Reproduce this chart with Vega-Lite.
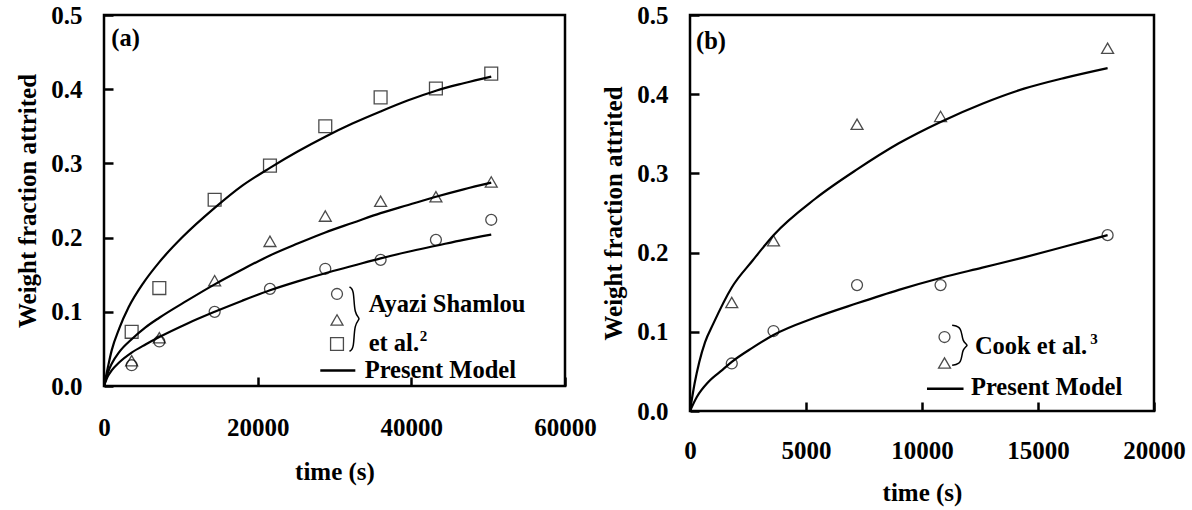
{
  "$schema": "https://vega.github.io/schema/vega-lite/v6.json",
  "background": "white",
  "padding": {"left": 14, "top": 1, "right": 5, "bottom": 5},
  "spacing": 125,
  "bounds": "flush",
  "config": {
    "font": "Liberation Serif",
    "view": {"stroke": "black", "strokeWidth": 2.5},
    "axis": {
      "domain": false, "grid": false, "ticks": true,
      "labelFont": "Liberation Serif", "labelFontWeight": "bold", "labelFontSize": 25, "labelColor": "black",
      "titleFont": "Liberation Serif", "titleFontWeight": "bold", "titleFontSize": 25, "titleColor": "black",
      "tickColor": "black", "tickWidth": 2.5, "tickSize": 9, "offset": -9,
      "labelFlush": false, "labelOverlap": false, "zindex": 1
    }
  },
  "datasets": {
    "a_points": [
      {"t": 3600, "w": 0.028, "series": "circle"},
      {"t": 7200, "w": 0.060, "series": "circle"},
      {"t": 14400, "w": 0.100, "series": "circle"},
      {"t": 21600, "w": 0.131, "series": "circle"},
      {"t": 28800, "w": 0.158, "series": "circle"},
      {"t": 36000, "w": 0.170, "series": "circle"},
      {"t": 43200, "w": 0.197, "series": "circle"},
      {"t": 50400, "w": 0.224, "series": "circle"},
      {"t": 3600, "w": 0.034, "series": "triangle"},
      {"t": 7200, "w": 0.065, "series": "triangle"},
      {"t": 14400, "w": 0.142, "series": "triangle"},
      {"t": 21600, "w": 0.195, "series": "triangle"},
      {"t": 28800, "w": 0.229, "series": "triangle"},
      {"t": 36000, "w": 0.249, "series": "triangle"},
      {"t": 43200, "w": 0.255, "series": "triangle"},
      {"t": 50400, "w": 0.275, "series": "triangle"},
      {"t": 3600, "w": 0.073, "series": "square"},
      {"t": 7200, "w": 0.132, "series": "square"},
      {"t": 14400, "w": 0.251, "series": "square"},
      {"t": 21600, "w": 0.297, "series": "square"},
      {"t": 28800, "w": 0.350, "series": "square"},
      {"t": 36000, "w": 0.389, "series": "square"},
      {"t": 43200, "w": 0.401, "series": "square"},
      {"t": 50400, "w": 0.421, "series": "square"}
    ],
    "a_curves": [
      {"t": 0, "w": 0, "curve": "c3"},
      {"t": 500, "w": 0.025, "curve": "c3"},
      {"t": 1000, "w": 0.048, "curve": "c3"},
      {"t": 2000, "w": 0.078, "curve": "c3"},
      {"t": 3200, "w": 0.106, "curve": "c3"},
      {"t": 5200, "w": 0.140, "curve": "c3"},
      {"t": 7200, "w": 0.167, "curve": "c3"},
      {"t": 10150, "w": 0.200, "curve": "c3"},
      {"t": 14400, "w": 0.240, "curve": "c3"},
      {"t": 18000, "w": 0.270, "curve": "c3"},
      {"t": 21600, "w": 0.294, "curve": "c3"},
      {"t": 25200, "w": 0.316, "curve": "c3"},
      {"t": 28800, "w": 0.336, "curve": "c3"},
      {"t": 32400, "w": 0.354, "curve": "c3"},
      {"t": 36000, "w": 0.370, "curve": "c3"},
      {"t": 39600, "w": 0.385, "curve": "c3"},
      {"t": 43200, "w": 0.398, "curve": "c3"},
      {"t": 46800, "w": 0.408, "curve": "c3"},
      {"t": 50400, "w": 0.417, "curve": "c3"},
      {"t": 0, "w": 0, "curve": "c2"},
      {"t": 500, "w": 0.018, "curve": "c2"},
      {"t": 1000, "w": 0.030, "curve": "c2"},
      {"t": 2000, "w": 0.046, "curve": "c2"},
      {"t": 3600, "w": 0.063, "curve": "c2"},
      {"t": 5400, "w": 0.079, "curve": "c2"},
      {"t": 7200, "w": 0.092, "curve": "c2"},
      {"t": 10800, "w": 0.115, "curve": "c2"},
      {"t": 14400, "w": 0.137, "curve": "c2"},
      {"t": 18000, "w": 0.157, "curve": "c2"},
      {"t": 21600, "w": 0.176, "curve": "c2"},
      {"t": 25200, "w": 0.192, "curve": "c2"},
      {"t": 28800, "w": 0.207, "curve": "c2"},
      {"t": 32400, "w": 0.220, "curve": "c2"},
      {"t": 36000, "w": 0.233, "curve": "c2"},
      {"t": 39600, "w": 0.244, "curve": "c2"},
      {"t": 43200, "w": 0.255, "curve": "c2"},
      {"t": 46800, "w": 0.265, "curve": "c2"},
      {"t": 50400, "w": 0.274, "curve": "c2"},
      {"t": 0, "w": 0, "curve": "c1"},
      {"t": 500, "w": 0.013, "curve": "c1"},
      {"t": 1000, "w": 0.021, "curve": "c1"},
      {"t": 2000, "w": 0.032, "curve": "c1"},
      {"t": 3600, "w": 0.045, "curve": "c1"},
      {"t": 5400, "w": 0.056, "curve": "c1"},
      {"t": 7200, "w": 0.066, "curve": "c1"},
      {"t": 10800, "w": 0.084, "curve": "c1"},
      {"t": 14400, "w": 0.100, "curve": "c1"},
      {"t": 18000, "w": 0.115, "curve": "c1"},
      {"t": 21600, "w": 0.129, "curve": "c1"},
      {"t": 25200, "w": 0.141, "curve": "c1"},
      {"t": 28800, "w": 0.152, "curve": "c1"},
      {"t": 32400, "w": 0.162, "curve": "c1"},
      {"t": 36000, "w": 0.172, "curve": "c1"},
      {"t": 39600, "w": 0.181, "curve": "c1"},
      {"t": 43200, "w": 0.189, "curve": "c1"},
      {"t": 46800, "w": 0.197, "curve": "c1"},
      {"t": 50400, "w": 0.204, "curve": "c1"}
    ],
    "a_legend_symbols": [
      {"t": 30326, "w": 0.124, "series": "circle"},
      {"t": 30326, "w": 0.089, "series": "triangle"},
      {"t": 30326, "w": 0.0566, "series": "square"}
    ],
    "a_brace": [
      {"k": 1, "t": 31950, "w": 0.1334},
      {"k": 2, "t": 32550, "w": 0.1300},
      {"k": 3, "t": 32550, "w": 0.0960},
      {"k": 4, "t": 33500, "w": 0.0907},
      {"k": 5, "t": 32550, "w": 0.0850},
      {"k": 6, "t": 32550, "w": 0.0500},
      {"k": 7, "t": 31950, "w": 0.0468}
    ],
    "a_legend_line": [
      {"t": 28150, "w": 0.021},
      {"t": 32710, "w": 0.021}
    ],
    "a_texts": [
      {"t": 950, "w": 0.468, "label": "(a)"},
      {"t": 34450, "w": 0.1088, "label": "Ayazi Shamlou"},
      {"t": 34450, "w": 0.0566, "label": "et al."},
      {"t": 33930, "w": 0.0202, "label": "Present Model"}
    ],
    "a_sup": [
      {"t": 41100, "w": 0.0674, "label": "2"}
    ],
    "a_yticks": [{"w": 0.1}, {"w": 0.2}, {"w": 0.3}, {"w": 0.4}],
    "a_xticks": [{"t": 20000}, {"t": 40000}],
    "b_points": [
      {"t": 1800, "w": 0.060, "series": "circle"},
      {"t": 3600, "w": 0.101, "series": "circle"},
      {"t": 7200, "w": 0.159, "series": "circle"},
      {"t": 10800, "w": 0.159, "series": "circle"},
      {"t": 18000, "w": 0.222, "series": "circle"},
      {"t": 1800, "w": 0.137, "series": "triangle"},
      {"t": 3600, "w": 0.215, "series": "triangle"},
      {"t": 7200, "w": 0.362, "series": "triangle"},
      {"t": 10800, "w": 0.372, "series": "triangle"},
      {"t": 18000, "w": 0.458, "series": "triangle"}
    ],
    "b_curves": [
      {"t": 0, "w": 0, "curve": "c2"},
      {"t": 200, "w": 0.035, "curve": "c2"},
      {"t": 400, "w": 0.062, "curve": "c2"},
      {"t": 650, "w": 0.087, "curve": "c2"},
      {"t": 1000, "w": 0.110, "curve": "c2"},
      {"t": 1800, "w": 0.156, "curve": "c2"},
      {"t": 2700, "w": 0.190, "curve": "c2"},
      {"t": 3600, "w": 0.222, "curve": "c2"},
      {"t": 5400, "w": 0.268, "curve": "c2"},
      {"t": 7200, "w": 0.305, "curve": "c2"},
      {"t": 9000, "w": 0.338, "curve": "c2"},
      {"t": 10800, "w": 0.365, "curve": "c2"},
      {"t": 12600, "w": 0.388, "curve": "c2"},
      {"t": 14400, "w": 0.407, "curve": "c2"},
      {"t": 16200, "w": 0.421, "curve": "c2"},
      {"t": 18000, "w": 0.433, "curve": "c2"},
      {"t": 0, "w": 0, "curve": "c1"},
      {"t": 300, "w": 0.018, "curve": "c1"},
      {"t": 800, "w": 0.037, "curve": "c1"},
      {"t": 1400, "w": 0.052, "curve": "c1"},
      {"t": 1800, "w": 0.062, "curve": "c1"},
      {"t": 2700, "w": 0.080, "curve": "c1"},
      {"t": 3600, "w": 0.096, "curve": "c1"},
      {"t": 5400, "w": 0.118, "curve": "c1"},
      {"t": 7200, "w": 0.136, "curve": "c1"},
      {"t": 9000, "w": 0.153, "curve": "c1"},
      {"t": 10800, "w": 0.168, "curve": "c1"},
      {"t": 12600, "w": 0.181, "curve": "c1"},
      {"t": 14400, "w": 0.194, "curve": "c1"},
      {"t": 16200, "w": 0.208, "curve": "c1"},
      {"t": 18000, "w": 0.222, "curve": "c1"}
    ],
    "b_legend_symbols": [
      {"t": 10970, "w": 0.0934, "series": "circle"},
      {"t": 10970, "w": 0.0606, "series": "triangle"}
    ],
    "b_brace": [
      {"k": 1, "t": 11300, "w": 0.1082},
      {"k": 2, "t": 11720, "w": 0.1060},
      {"k": 3, "t": 11720, "w": 0.0870},
      {"k": 4, "t": 12050, "w": 0.0830},
      {"k": 5, "t": 11720, "w": 0.0790},
      {"k": 6, "t": 11720, "w": 0.0600},
      {"k": 7, "t": 11300, "w": 0.0577}
    ],
    "b_legend_line": [
      {"t": 10215, "w": 0.0282},
      {"t": 11790, "w": 0.0282}
    ],
    "b_texts": [
      {"t": 260, "w": 0.466, "label": "(b)"},
      {"t": 12280, "w": 0.0805, "label": "Cook et al."},
      {"t": 12110, "w": 0.029, "label": "Present Model"}
    ],
    "b_sup": [
      {"t": 17250, "w": 0.0913, "label": "3"}
    ],
    "b_yticks": [{"w": 0.1}, {"w": 0.2}, {"w": 0.3}, {"w": 0.4}],
    "b_xticks": [{"t": 5000}, {"t": 10000}, {"t": 15000}]
  },
  "hconcat": [
    {
      "width": 461,
      "height": 371,
      "encoding": {
        "x": {"field": "t", "type": "quantitative", "scale": {"domain": [0, 60000], "nice": false},
              "axis": {"values": [0, 20000, 40000, 60000], "format": "d", "title": "time (s)", "labelPadding": 29, "titlePadding": 19}},
        "y": {"field": "w", "type": "quantitative", "scale": {"domain": [0, 0.5], "nice": false},
              "axis": {"values": [0, 0.1, 0.2, 0.3, 0.4, 0.5], "format": ".1f", "title": "Weight fraction attrited", "labelPadding": 22, "titlePadding": 10}}
      },
      "layer": [
        {"data": {"name": "a_yticks"}, "mark": {"type": "rule", "color": "black", "strokeWidth": 2.5},
         "encoding": {"x": {"datum": 0}, "x2": {"datum": 1170}}},
        {"data": {"name": "a_xticks"}, "mark": {"type": "rule", "color": "black", "strokeWidth": 2.5},
         "encoding": {"y": {"datum": 0}, "y2": {"datum": 0.0121}}},
        {"data": {"name": "a_curves"}, "mark": {"type": "line", "color": "black", "strokeWidth": 2.2, "interpolate": "monotone"},
         "encoding": {"detail": {"field": "curve"}}},
        {"data": {"name": "a_points"}, "mark": {"type": "point", "filled": false, "color": "black", "strokeWidth": 1.3},
         "encoding": {
           "shape": {"field": "series", "scale": {"domain": ["circle", "triangle", "square"], "range": ["circle", "triangle-up", "square"]}, "legend": null},
           "size": {"field": "series", "scale": {"domain": ["circle", "triangle", "square"], "range": [120, 165, 135]}, "legend": null}
         }},
        {"data": {"name": "a_legend_symbols"}, "mark": {"type": "point", "filled": false, "color": "black", "strokeWidth": 1.3},
         "encoding": {
           "shape": {"field": "series", "scale": {"domain": ["circle", "triangle", "square"], "range": ["circle", "triangle-up", "square"]}, "legend": null},
           "size": {"field": "series", "scale": {"domain": ["circle", "triangle", "square"], "range": [120, 165, 135]}, "legend": null}
         }},
        {"data": {"name": "a_brace"}, "mark": {"type": "line", "color": "black", "strokeWidth": 1.5, "interpolate": "basis"},
         "encoding": {"order": {"field": "k", "type": "quantitative"}}},
        {"data": {"name": "a_legend_line"}, "mark": {"type": "line", "color": "black", "strokeWidth": 2.5}, "encoding": {}},
        {"data": {"name": "a_texts"}, "mark": {"type": "text", "font": "Liberation Serif", "fontWeight": "bold", "fontSize": 24.5, "align": "left", "baseline": "middle", "color": "black"},
         "encoding": {"text": {"field": "label"}}},
        {"data": {"name": "a_sup"}, "mark": {"type": "text", "font": "Liberation Serif", "fontWeight": "bold", "fontSize": 15, "align": "left", "baseline": "middle", "color": "black"},
         "encoding": {"text": {"field": "label"}}}
      ]
    },
    {
      "width": 464,
      "height": 396,
      "encoding": {
        "x": {"field": "t", "type": "quantitative", "scale": {"domain": [0, 20000], "nice": false},
              "axis": {"values": [0, 5000, 10000, 15000, 20000], "format": "d", "title": "time (s)", "labelPadding": 27, "titlePadding": 17}},
        "y": {"field": "w", "type": "quantitative", "scale": {"domain": [0, 0.5], "nice": false},
              "axis": {"values": [0, 0.1, 0.2, 0.3, 0.4, 0.5], "format": ".1f", "title": "Weight fraction attrited", "labelPadding": 22, "titlePadding": 10}}
      },
      "layer": [
        {"data": {"name": "b_yticks"}, "mark": {"type": "rule", "color": "black", "strokeWidth": 2.5},
         "encoding": {"x": {"datum": 0}, "x2": {"datum": 390}}},
        {"data": {"name": "b_xticks"}, "mark": {"type": "rule", "color": "black", "strokeWidth": 2.5},
         "encoding": {"y": {"datum": 0}, "y2": {"datum": 0.0114}}},
        {"data": {"name": "b_curves"}, "mark": {"type": "line", "color": "black", "strokeWidth": 2.2, "interpolate": "monotone"},
         "encoding": {"detail": {"field": "curve"}}},
        {"data": {"name": "b_points"}, "mark": {"type": "point", "filled": false, "color": "black", "strokeWidth": 1.3},
         "encoding": {
           "shape": {"field": "series", "scale": {"domain": ["circle", "triangle"], "range": ["circle", "triangle-up"]}, "legend": null},
           "size": {"field": "series", "scale": {"domain": ["circle", "triangle"], "range": [120, 165]}, "legend": null}
         }},
        {"data": {"name": "b_legend_symbols"}, "mark": {"type": "point", "filled": false, "color": "black", "strokeWidth": 1.3},
         "encoding": {
           "shape": {"field": "series", "scale": {"domain": ["circle", "triangle"], "range": ["circle", "triangle-up"]}, "legend": null},
           "size": {"field": "series", "scale": {"domain": ["circle", "triangle"], "range": [120, 165]}, "legend": null}
         }},
        {"data": {"name": "b_brace"}, "mark": {"type": "line", "color": "black", "strokeWidth": 1.5, "interpolate": "basis"},
         "encoding": {"order": {"field": "k", "type": "quantitative"}}},
        {"data": {"name": "b_legend_line"}, "mark": {"type": "line", "color": "black", "strokeWidth": 2.5}, "encoding": {}},
        {"data": {"name": "b_texts"}, "mark": {"type": "text", "font": "Liberation Serif", "fontWeight": "bold", "fontSize": 24.5, "align": "left", "baseline": "middle", "color": "black"},
         "encoding": {"text": {"field": "label"}}},
        {"data": {"name": "b_sup"}, "mark": {"type": "text", "font": "Liberation Serif", "fontWeight": "bold", "fontSize": 15, "align": "left", "baseline": "middle", "color": "black"},
         "encoding": {"text": {"field": "label"}}}
      ]
    }
  ]
}
